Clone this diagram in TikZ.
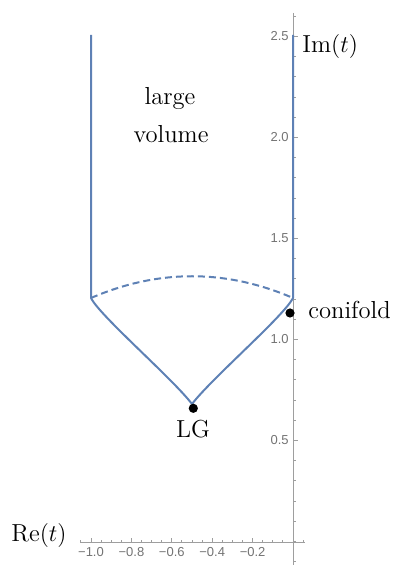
\documentclass[tikz,border=0pt]{standalone}
\usepackage{fontspec}
\newfontfamily\ticksf{Liberation Sans}
\definecolor{curveblue}{rgb}{0.368417,0.506779,0.709798}
\begin{document}
\begin{tikzpicture}[x=0.5pt,y=-0.5pt,
  curve/.style={draw=curveblue, line width=1pt, line join=round},
  axisline/.style={draw=black!38, line width=0.5pt},
  ticklab/.style={font=\ticksf\fontsize{6.5}{7}\selectfont, text=black!55, inner sep=0pt},
  lab/.style={font=\fontsize{12.3}{15}\selectfont, inner sep=0pt},
  dot/.style={circle, fill=black, inner sep=0pt, minimum size=4.6pt}
]
\useasboundingbox (0,0) rectangle (393,565);
% axes
\draw[axisline] (80,542) -- (305,542);
\draw[axisline] (293,13) -- (293,565);
% y ticks
\foreach \v in {-1,...,26} {
  \draw[axisline] (293,{541.5-20.2*\v}) -- ++(2.5,0);
}
\foreach \v/\l in {0.5/0.5,1/1.0,1.5/1.5,2/2.0,2.5/2.5} {
  \draw[axisline] (293,{541.5-202*\v}) -- ++(4.5,0);
  \node[ticklab, anchor=east] (yl\l) at (289,{541.5-202*\v}) {\l};
}
% x ticks
\foreach \i in {-21,...,1} {
  \draw[axisline] ({293+10.1*\i},542) -- ++(0,-2.5);
}
\foreach \i/\l in {-20/−1.0,-16/−0.8,-12/−0.6,-8/−0.4,-4/−0.2} {
  \draw[axisline] ({293+10.1*\i},542) -- ++(0,-4.5);
  \node[ticklab] (xl\i) at ({293+10.1*\i},552.5) {\l};
}
% boundary curves
\draw[curve] (91,35) -- (91,298)
  .. controls (100,316) and (172,378) .. (192,404)
  .. controls (212,378) and (284,316) .. (293,298)
  -- (293,35);
\draw[curve, dash pattern=on 3.5pt off 2pt] (91,298) .. controls (158,269) and (226,269) .. (293,298);
% points
\node[dot] (lg) at (193.3,408.3) {};
\node[dot] (coni) at (290,313) {};
% labels
\node[lab, anchor=base] (lgl) at (193,437) {LG};
\node[lab, anchor=base west] (conil) at (308,319) {conifold};
\node[lab, anchor=base] (lv1) at (170,105) {large};
\node[lab, anchor=base] (lv2) at (171,143) {volume};
\node[lab, anchor=base west] (iml) at (302,53) {$\mathrm{Im}(t)$};
\node[lab, anchor=base west] (rel) at (11,541.7) {$\mathrm{Re}(t)$};
\end{tikzpicture}
\end{document}
